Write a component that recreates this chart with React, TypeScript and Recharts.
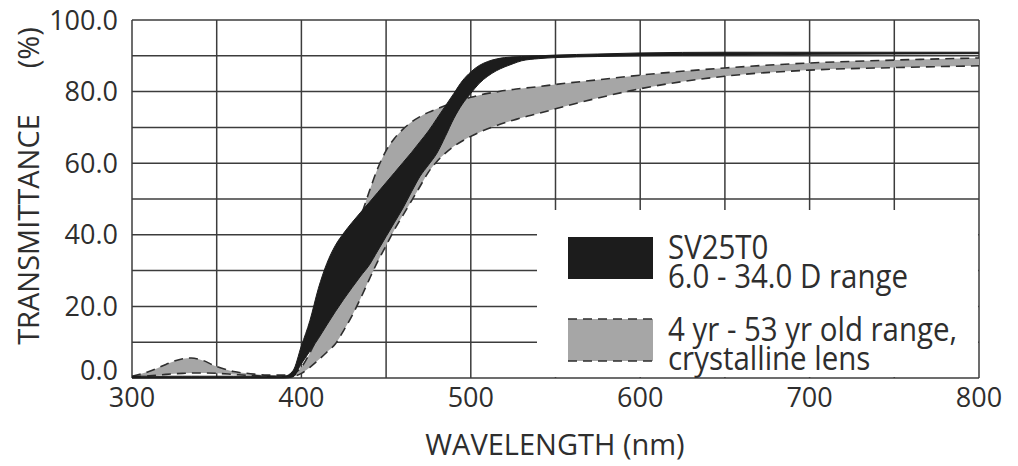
import React from "react";
import { ComposedChart, Area, XAxis, YAxis, CartesianGrid } from "recharts";

// wavelength (nm) sample points
const wavelengths = [
  300, 310, 320, 330, 335, 340, 350, 360, 370, 380,
  390, 395, 400, 405, 410, 415, 420, 425, 430, 435,
  440, 445, 450, 455, 460, 465, 470, 475, 480, 485,
  490, 495, 500, 505, 510, 515, 520, 525, 530, 540,
  550, 575, 600, 650, 700, 750, 800,
];

// SV25T0, 6.0 - 34.0 D range (lower / upper edge of the black band)
const iolLow = [
  0, 0, 0, 0, 0, 0, 0, 0, 0, 0,
  0, 0.3, 4, 7.5, 11, 14.8, 18.5, 22, 25.3, 28.5,
  31.5, 35.5, 39.5, 43.5, 47.5, 52, 56.3, 59.5, 62.8, 67.5,
  72.5, 76.5, 79.5, 82.3, 84.3, 85.8, 86.9, 87.8, 88.6, 89.2,
  89.5, 89.8, 90, 90.2, 90.4, 90.5, 90.6,
];
const iolHigh = [
  0.5, 0.5, 0.5, 0.5, 0.5, 0.5, 0.5, 0.5, 0.5, 0.5,
  0.5, 2, 9, 16, 25, 32, 37, 40.5, 43.5, 46.3,
  49, 51.8, 54.6, 57.4, 60.2, 63, 66, 69, 72.5, 76,
  79.5, 83, 85.5, 87.3, 88.4, 89.1, 89.5, 89.7, 89.8, 90,
  90.2, 90.5, 90.8, 91, 91, 91, 91,
];

// 4 yr - 53 yr old crystalline lens (lower / upper dashed edge)
const lensLow = [
  0.3, 0.6, 1, 1.3, 1.4, 1.4, 1.3, 1, 0.7, 0.5,
  0.4, 0.5, 1.3, 3, 5, 7.2, 9.5, 13.3, 17.5, 22.3,
  27.5, 32.5, 37, 41.5, 45.5, 49.5, 53.5, 57.5, 60.5, 62.8,
  64.7, 66.2, 67.5, 68.6, 69.6, 70.5, 71.3, 72, 72.7, 73.9,
  75.2, 78.2, 80.8, 84.3, 86, 86.7, 87.2,
];
const lensHigh = [
  0.5, 1.8, 3.8, 5.4, 5.6, 5.2, 3.2, 1.8, 1.2, 0.8,
  0.8, 1.2, 3, 7, 12, 18, 24, 31, 38, 45,
  52, 58.5, 63.5, 67, 69.5, 71.5, 73, 74.2, 75.2, 76.1,
  76.9, 77.7, 78.4, 79, 79.5, 79.9, 80.3, 80.6, 80.9, 81.4,
  82, 83.3, 84.6, 86.6, 88, 88.8, 89.4,
];

const xTicks = [300, 350, 400, 450, 500, 550, 600, 650, 700, 750, 800];
const yTicks = [0, 10, 20, 30, 40, 50, 60, 70, 80, 90, 100];

const rows = wavelengths.map((nm, i) => ({
  nm,
  iol: [iolLow[i], iolHigh[i]],
  lens: [lensLow[i], lensHigh[i]],
}));

const FONT = "'Open Sans', sans-serif";
const TEXT = "#2e2e2e";

function YTick(props: any) {
  const { x, y, payload } = props;
  const v = payload.value;
  if (v % 20 !== 0) return <g />;
  return (
    <text x={x} y={y} dy={v === 0 ? 1.5 : 9.5} textAnchor="end" fontSize={27} fontFamily={FONT} fill={TEXT}>
      {v.toFixed(1)}
    </text>
  );
}

function XTick(props: any) {
  const { x, y, payload } = props;
  const v = payload.value;
  if (v % 100 !== 0) return <g />;
  return (
    <text x={x} y={y} dy={21} textAnchor="middle" fontSize={27} fontFamily={FONT} fill={TEXT}>
      {v}
    </text>
  );
}

const legendLine: React.CSSProperties = {
  position: "absolute",
  left: 668,
  fontFamily: FONT,
  fontSize: 32,
  lineHeight: "29px",
  height: 29,
  color: TEXT,
  whiteSpace: "nowrap",
  transform: "scaleX(0.92)",
  transformOrigin: "left top",
};

export default function App() {
  return (
    <div style={{ position: "absolute", left: 0, top: 0, width: 1018, height: 466, background: "#fff" }}>
      <ComposedChart
        width={1018}
        height={466}
        data={rows}
        margin={{ top: 20, right: 39, bottom: 48, left: 32 }}
      >
        <CartesianGrid stroke="#3c3c3c" strokeWidth={1.5} />
        <XAxis
          dataKey="nm"
          type="number"
          domain={[300, 800]}
          ticks={xTicks}
          interval={0}
          height={40}
          axisLine={false}
          tickLine={false}
          tickSize={0}
          tickMargin={8}
          tick={XTick}
        />
        <YAxis
          type="number"
          domain={[0, 100]}
          ticks={yTicks}
          interval={0}
          width={100}
          axisLine={false}
          tickLine={false}
          tickSize={0}
          tickMargin={14}
          tick={YTick}
        />
        <Area
          type="monotone"
          dataKey="lens"
          fill="#a6a6a6"
          fillOpacity={1}
          stroke="#2e2e2e"
          strokeWidth={1.6}
          strokeDasharray="9 6"
          isAnimationActive={false}
        />
        <Area
          type="monotone"
          dataKey="iol"
          fill="#1c1c1c"
          fillOpacity={1}
          stroke="#1c1c1c"
          strokeWidth={1}
          isAnimationActive={false}
        />
      </ComposedChart>

      <div
        style={{
          position: "absolute",
          left: 555,
          top: 429,
          transform: "translateX(-50%)",
          fontFamily: FONT,
          fontSize: 29,
          lineHeight: "29px",
          color: TEXT,
          whiteSpace: "nowrap",
        }}
      >
        WAVELENGTH (nm)
      </div>
      <div
        style={{
          position: "absolute",
          left: 27,
          top: 186,
          transform: "translate(-50%, -50%) rotate(-90deg)",
          fontFamily: FONT,
          fontSize: 29,
          lineHeight: "29px",
          color: TEXT,
          whiteSpace: "nowrap",
        }}
      >
        TRANSMITTANCE<span style={{ marginLeft: 46 }}>(%)</span>
      </div>

      {/* legend box */}
      <div style={{ position: "absolute", left: 537, top: 210, width: 441, height: 167, background: "#fff" }} />
      <div style={{ position: "absolute", left: 568, top: 237, width: 85, height: 42, background: "#1c1c1c" }} />
      <svg style={{ position: "absolute", left: 568, top: 318 }} width={85} height={44}>
        <rect x={0} y={1} width={85} height={42} fill="#a6a6a6" />
        <line x1={0} y1={1} x2={85} y2={1} stroke="#2e2e2e" strokeWidth={1.6} strokeDasharray="9 6" />
        <line x1={0} y1={43} x2={85} y2={43} stroke="#2e2e2e" strokeWidth={1.6} strokeDasharray="9 6" />
      </svg>
      <div style={{ ...legendLine, top: 232 }}>SV25T0</div>
      <div style={{ ...legendLine, top: 261 }}>6.0 - 34.0 D range</div>
      <div style={{ ...legendLine, top: 314 }}>4 yr - 53 yr old range,</div>
      <div style={{ ...legendLine, top: 343 }}>crystalline lens</div>
    </div>
  );
}
